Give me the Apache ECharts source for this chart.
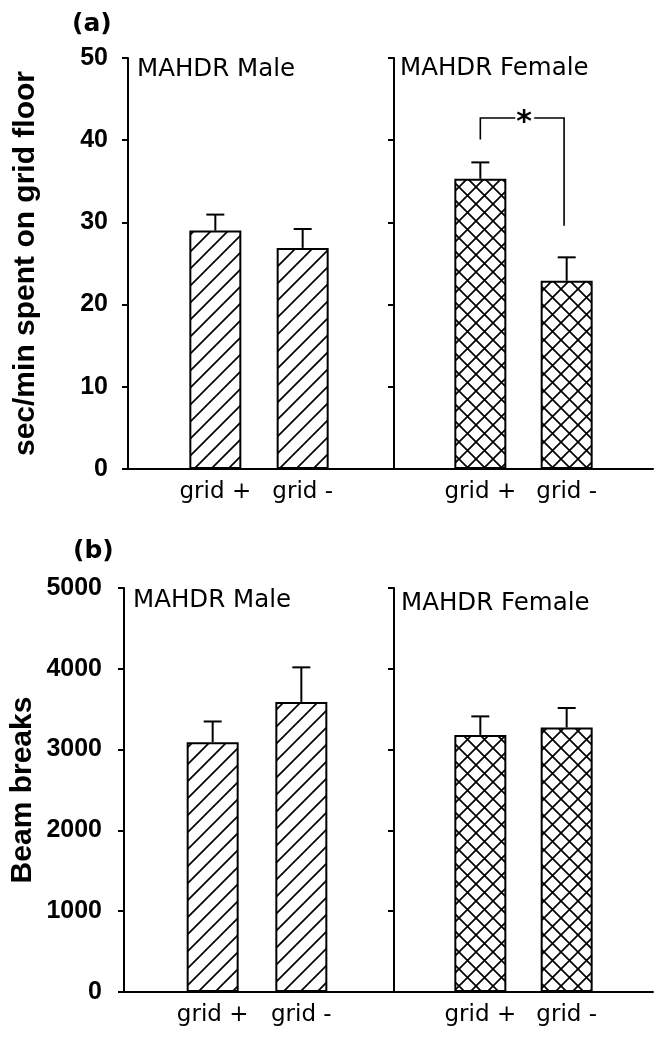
<!DOCTYPE html>
<html>
<head>
<meta charset="utf-8">
<script src="https://cdn.jsdelivr.net/npm/echarts@6/dist/echarts.min.js"></script>
<style>
  html, body { margin: 0; padding: 0; background: #fff; }
  #chart { width: 669px; height: 1050px; }
</style>
</head>
<body>
<div id="chart"></div>
<script>
// ---------- data ----------
const categories = ['grid +', 'grid -'];
const categoryX = [1, 2];            // positions on a 0..3 axis
const panelTitles = ['MAHDR Male', 'MAHDR Female'];
const panelLetters = ['(a)', '(b)'];
const yTitles = ['sec/min spent on grid floor', 'Beam breaks'];

const timeMale = [29.0, 26.9];
const timeMaleErr = [1.95, 2.3];
const timeFemale = [35.3, 22.9];
const timeFemaleErr = [2.0, 2.85];

const beamMale = [3090, 3590];
const beamMaleErr = [258, 428];
const beamFemale = [3182, 3273];
const beamFemaleErr = [229, 242];

const timeTicks = { min: 0, max: 50, interval: 10 };
const beamTicks = { min: 0, max: 5000, interval: 1000 };

// significance bracket (panel a, female): x of the two legs, top, foot of left leg, foot of right leg
const sigX = [1, 1.97];
const sigTop = 42.7;
const sigFeet = [40.1, 29.6];
const sigMark = '*';

// ---------- patterns ----------
function makePattern(cross) {
  const s = 17;
  const c = document.createElement('canvas');
  c.width = s; c.height = s;
  const ctx = c.getContext('2d');
  ctx.fillStyle = '#fff';
  ctx.fillRect(0, 0, s, s);
  ctx.strokeStyle = '#000';
  ctx.lineWidth = 1.7;
  ctx.beginPath();
  ctx.moveTo(-3, s + 3); ctx.lineTo(s + 3, -3);
  ctx.moveTo(-3, 3); ctx.lineTo(3, -3);
  ctx.moveTo(s - 3, s + 3); ctx.lineTo(s + 3, s - 3);
  if (cross) {
    ctx.moveTo(-3, -3); ctx.lineTo(s + 3, s + 3);
    ctx.moveTo(s - 3, -3); ctx.lineTo(s + 3, 3);
    ctx.moveTo(-3, s - 3); ctx.lineTo(3, s + 3);
  }
  ctx.stroke();
  return c;
}
const hatchMale = { image: makePattern(false), repeat: 'repeat' };
const hatchFemale = { image: makePattern(true), repeat: 'repeat' };

// ---------- layout ----------
const grids = [
  { left: 128, top: 58, width: 262, height: 411 },
  { left: 394, top: 58, width: 259, height: 411 },
  { left: 124, top: 588, width: 266, height: 404 },
  { left: 394, top: 588, width: 259, height: 404 }
];

const black = '#000';
const tickFont = { fontFamily: 'Liberation Sans', fontWeight: 'bold', fontSize: 25, color: black };
const catFont = { fontFamily: 'DejaVu Sans', fontSize: 23, color: black };

function xAxisFor(i) {
  return {
    type: 'value', gridIndex: i, min: 0, max: 3, interval: 1,
    axisLine: { show: true, lineStyle: { color: black, width: 2 } },
    axisTick: { show: false },
    splitLine: { show: false },
    axisLabel: Object.assign({
      margin: 12,
      formatter: v => { const k = categoryX.indexOf(v); return k >= 0 ? categories[k] : ''; }
    }, catFont)
  };
}
function yAxisFor(i, ticks, showLabels, name, gap, labelMargin) {
  return {
    type: 'value', gridIndex: i, min: ticks.min, max: ticks.max, interval: ticks.interval,
    axisLine: { show: true, lineStyle: { color: black, width: 2 } },
    axisTick: { show: true, inside: false, length: 6, lineStyle: { color: black, width: 2 } },
    splitLine: { show: false },
    axisLabel: Object.assign({ show: showLabels, margin: labelMargin, formatter: v => String(v) }, tickFont),
    name: name || '',
    nameLocation: 'middle',
    nameGap: gap || 0,
    nameTextStyle: { fontFamily: 'Liberation Sans', fontWeight: 'bold', fontSize: 30, color: black }
  };
}

function barSeries(i, vals, pattern) {
  return {
    type: 'bar', xAxisIndex: i, yAxisIndex: i, barWidth: 52, z: 2,
    data: vals.map((v, k) => [categoryX[k], v]),
    itemStyle: { color: pattern, borderColor: black, borderWidth: 2 },
    emphasis: { disabled: true },
    animation: false
  };
}
function errSeries(i, vals, errs) {
  return {
    type: 'custom', xAxisIndex: i, yAxisIndex: i, z: 3,
    data: vals.map((v, k) => [categoryX[k], v, errs[k]]),
    renderItem: (params, api) => {
      const x = api.value(0), y = api.value(1), e = api.value(2);
      const p0 = api.coord([x, y]);
      const p1 = api.coord([x, y + e]);
      const cap = 9;
      return {
        type: 'group',
        children: [
          { type: 'line', shape: { x1: p0[0], y1: p0[1], x2: p1[0], y2: p1[1] }, style: { stroke: black, lineWidth: 2 } },
          { type: 'line', shape: { x1: p1[0] - cap, y1: p1[1], x2: p1[0] + cap, y2: p1[1] }, style: { stroke: black, lineWidth: 2 } }
        ]
      };
    },
    animation: false
  };
}
const bracketSeries = {
  type: 'custom', xAxisIndex: 1, yAxisIndex: 1, z: 4,
  data: [[sigX[0], sigTop, sigX[1], sigFeet[0], sigFeet[1]]],
  renderItem: (params, api) => {
    const a = api.coord([api.value(0), api.value(1)]);
    const b = api.coord([api.value(2), api.value(1)]);
    const fa = api.coord([api.value(0), api.value(3)]);
    const fb = api.coord([api.value(2), api.value(4)]);
    const mid = (a[0] + b[0]) / 2 + 2;
    const st = { stroke: black, lineWidth: 1.6 };
    return {
      type: 'group',
      children: [
        { type: 'polyline', shape: { points: [[fa[0], fa[1]], [a[0], a[1]], [mid - 9, a[1]]] }, style: Object.assign({ fill: null }, st) },
        { type: 'polyline', shape: { points: [[mid + 10, b[1]], [b[0], b[1]], [fb[0], fb[1]]] }, style: Object.assign({ fill: null }, st) },
        { type: 'text', x: mid, y: a[1] + 5, style: { text: sigMark, fill: black, font: 'bold 30px "DejaVu Sans"', align: 'center', verticalAlign: 'middle' } }
      ]
    };
  },
  animation: false
};

const titleBase = { padding: 0, textStyle: { fontFamily: 'DejaVu Sans', fontWeight: 'normal', fontSize: 24.5, color: black } };
const letterStyle = { fontFamily: 'DejaVu Sans', fontWeight: 'bold', fontSize: 25, color: black };

const option = {
  backgroundColor: '#fff',
  animation: false,
  title: [
    Object.assign({}, titleBase, { text: panelTitles[0], left: 137, top: 57 }),
    Object.assign({}, titleBase, { text: panelTitles[1], left: 400, top: 56 }),
    Object.assign({}, titleBase, { text: panelTitles[0], left: 133, top: 588 }),
    Object.assign({}, titleBase, { text: panelTitles[1], left: 401, top: 591 }),
    { text: panelLetters[0], left: 72, top: 12, padding: 0, textStyle: letterStyle },
    { text: panelLetters[1], left: 73, top: 539, padding: 0, textStyle: letterStyle }
  ],
  grid: grids.map(g => Object.assign({ containLabel: false, outerBoundsMode: 'none' }, g)),
  xAxis: [0, 1, 2, 3].map(xAxisFor),
  yAxis: [
    yAxisFor(0, timeTicks, true, yTitles[0], 87, 20),
    yAxisFor(1, timeTicks, false),
    yAxisFor(2, beamTicks, true, yTitles[1], 86, 22),
    yAxisFor(3, beamTicks, false)
  ],
  series: [
    barSeries(0, timeMale, hatchMale),
    errSeries(0, timeMale, timeMaleErr),
    barSeries(1, timeFemale, hatchFemale),
    errSeries(1, timeFemale, timeFemaleErr),
    bracketSeries,
    barSeries(2, beamMale, hatchMale),
    errSeries(2, beamMale, beamMaleErr),
    barSeries(3, beamFemale, hatchFemale),
    errSeries(3, beamFemale, beamFemaleErr)
  ]
};

const chart = echarts.init(document.getElementById('chart'), null, { renderer: 'canvas' });
chart.setOption(option);
</script>
</body>
</html>
